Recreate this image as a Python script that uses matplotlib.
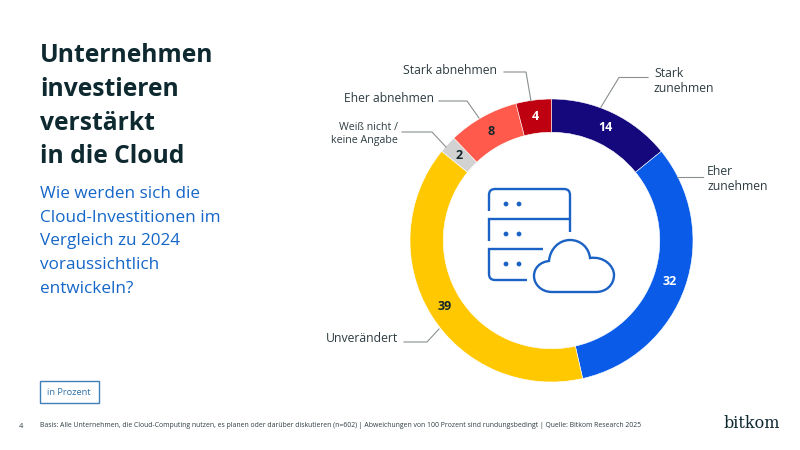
import matplotlib
matplotlib.use("Agg")
import matplotlib.pyplot as plt
from matplotlib.patches import Circle, PathPatch, Rectangle
from matplotlib.path import Path

plt.rcParams["font.family"] = ["Open Sans", "DejaVu Sans"]

# Werte im Uhrzeigersinn ab 12 Uhr
categories = ["Stark zunehmen", "Eher zunehmen", "Unverändert",
              "Weiß nicht / keine Angabe", "Eher abnehmen", "Stark abnehmen"]
values = [14, 32, 39, 2, 8, 4]
colors = ["#14087C", "#0A5CE8", "#FFC800", "#D2D2D2", "#FF5A4B", "#BE0010"]
value_colors = ["white", "white", "#14262B", "#14262B", "#14262B", "white"]

title_lines = ["Unternehmen", "investieren", "verstärkt", "in die Cloud"]
subtitle_lines = ["Wie werden sich die", "Cloud-Investitionen im", "Vergleich zu 2024",
                  "voraussichtlich", "entwickeln?"]
footnote = ("Basis: Alle Unternehmen, die Cloud-Computing nutzen, es planen oder darüber "
            "diskutieren (n=602) | Abweichungen von 100 Prozent sind rundungsbedingt | "
            "Quelle: Bitkom Research 2025")

DARK = "#0E2A30"
TEXT = "#2E3D42"
BLUE = "#1466C8"
ICON = "#1B62C4"
LEADER = "#8A8F90"

fig = plt.figure(figsize=(8, 4.5), dpi=100, facecolor="white")

# Ring
cx, cy, r = 551.5, 240.5, 141.5
pie_ax = fig.add_axes([(cx - r) / 800, 1 - (cy + r) / 450, 2 * r / 800, 2 * r / 450])
wedges, _, autotexts = pie_ax.pie(
    values, colors=colors, startangle=90, counterclock=False, radius=1,
    wedgeprops={"width": 0.235, "edgecolor": "white", "linewidth": 0.4},
    autopct="%d", pctdistance=0.885,
    textprops={"fontsize": 9, "fontweight": "bold"},
)
for txt, v, c in zip(autotexts, values, value_colors):
    txt.set_text(str(v))
    txt.set_color(c)
pie_ax.set_xlim(-1, 1)
pie_ax.set_ylim(-1, 1)

# Alles andere in Pixelkoordinaten
ax = fig.add_axes([0, 0, 1, 1], facecolor="none")
ax.set_xlim(0, 800)
ax.set_ylim(450, 0)
ax.axis("off")

for i, line in enumerate(title_lines):
    ax.text(40, 56 + i * 33.5, line, fontsize=17.7, fontweight="bold", color=DARK,
            ha="left", va="center")
for i, line in enumerate(subtitle_lines):
    ax.text(40, 194 + i * 23.7, line, fontsize=12.35, color=BLUE, ha="left", va="center")

ax.add_patch(Rectangle((40, 381), 58.5, 22, fill=False, edgecolor="#3F7FB5", lw=1))
ax.text(69, 392.5, "in Prozent", fontsize=6.7, color="#2F70A8", ha="center", va="center")

ax.text(19, 426, "4", fontsize=5.3, color=TEXT, va="center")
ax.text(40, 425.5, footnote, fontsize=4.94, color=TEXT, va="center")
ax.text(723, 423, "bitkom", fontsize=11.5, color=DARK, va="center", family="DejaVu Serif")

# Beschriftungen mit Führungslinien
ax.text(497, 70, "Stark abnehmen", fontsize=8.85, color=TEXT, ha="right", va="center")
ax.plot([504, 526, 531], [72, 72, 101], color=LEADER, lw=0.8)
ax.text(434, 98, "Eher abnehmen", fontsize=8.7, color=TEXT, ha="right", va="center")
ax.plot([439, 467, 479], [101, 101, 118], color=LEADER, lw=0.8)
ax.text(398, 133.5, "Weiß nicht /\nkeine Angabe", fontsize=7.7, color=TEXT, ha="right",
        va="center", multialignment="right", linespacing=1.25)
ax.plot([402, 432, 446], [132, 132, 147], color=LEADER, lw=0.8)
ax.text(654, 81, "Stark\nzunehmen", fontsize=8.8, color=TEXT, ha="left", va="center",
        linespacing=1.25)
ax.plot([648, 619, 601], [77.5, 77.5, 107], color=LEADER, lw=0.8)
ax.text(707, 179, "Eher\nzunehmen", fontsize=8.8, color=TEXT, ha="left", va="center",
        linespacing=1.25)
ax.plot([703, 677], [177, 177], color=LEADER, lw=0.8)
ax.text(398, 339, "Unverändert", fontsize=8.8, color=TEXT, ha="right", va="center")
ax.plot([404, 427, 439], [342, 342, 329], color=LEADER, lw=0.8)

# Icon: Server
M, L, Q, C = Path.MOVETO, Path.LINETO, Path.CURVE3, Path.CURVE4
rack = [
    ([489, 211], M), ([489, 195], L), ([489, 189], Q), ([495, 189], Q),
    ([564, 189], L), ([570, 189], Q), ([570, 195], Q), ([570, 232], L),
    ([489, 241], M), ([489, 219], L), ([570, 219], L),
    ([543, 249], M), ([489, 249], L), ([489, 274], L), ([489, 280], Q), ([495, 280], Q),
    ([527, 280], L),
]
ax.add_patch(PathPatch(Path([p for p, _ in rack], [k for _, k in rack]), fill=False,
                       edgecolor=ICON, lw=1.7, capstyle="butt"))
for y in (204, 234, 264):
    for x in (506, 519):
        ax.add_patch(Circle((x, y), 2.4, color=ICON, lw=0))

# Icon: Wolke
cloud = [
    ([552, 292], M), ([541, 292], C), ([534, 284], C), ([534, 276], C),
    ([534, 268], C), ([540, 262], C), ([549, 261], C),
    ([550, 249], C), ([559, 240], C), ([570, 240], C),
    ([581, 240], C), ([589, 248], C), ([590, 258], C),
    ([604, 256], C), ([614, 266], C), ([614, 275], C),
    ([614, 285], C), ([606, 292], C), ([596, 292], C),
    ([552, 292], L),
]
ax.add_patch(PathPatch(Path([p for p, _ in cloud], [k for _, k in cloud]), fill=False,
                       edgecolor=ICON, lw=1.7))

fig.savefig("out.png", dpi=100)
